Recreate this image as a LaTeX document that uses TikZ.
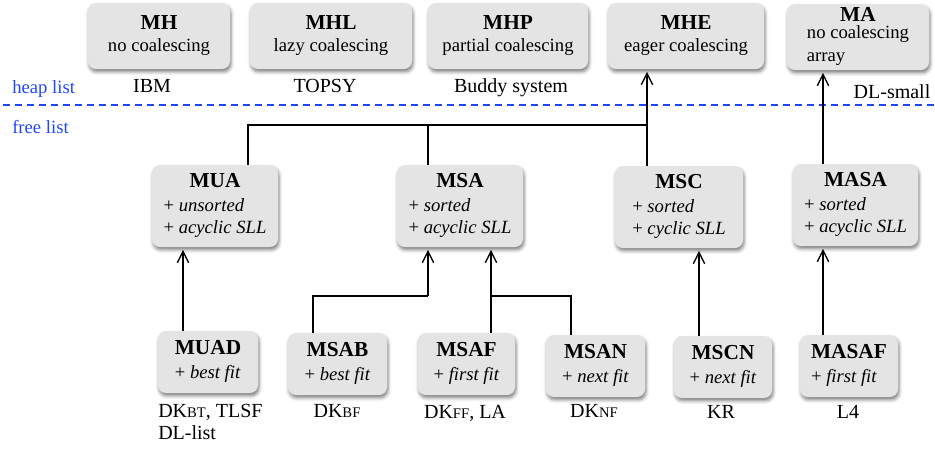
\documentclass[tikz,border=0pt]{standalone}
\usepackage{fontspec}
\setmainfont{Liberation Serif}
\usetikzlibrary{arrows.meta,shadows.blur}

\definecolor{boxgray}{HTML}{E4E4E4}
\definecolor{listblue}{HTML}{1F45FF}

% box contents: bold centred title over one or more lines
\newcommand\titlefont{\bfseries\fontsize{16}{17}\selectfont}
\newcommand\toptxt[2]{\begin{tabular}{@{}c@{}}{\titlefont #1}\\[-0.5pt]#2\end{tabular}}
\newcommand\celltxt[3]{\begin{tabular}{@{}l@{}}\multicolumn{1}{@{}c@{}}{\titlefont #1}\\[#2]#3\end{tabular}}
\newcommand\smc[1]{{\fontsize{11}{11}\selectfont #1}}

\begin{document}
\begin{tikzpicture}[x=0.75pt,y=-0.75pt,
  box/.style={rounded corners=6pt, fill=boxgray, inner sep=0pt,
    font=\fontsize{14}{16.5}\selectfont,
    blur shadow={shadow xshift=0.8pt, shadow yshift=-2.2pt,
      shadow blur radius=2.5pt, shadow opacity=50}},
  toprow/.style={box, minimum height=49.5pt},
  midrow/.style={box, minimum height=61.5pt},
  botrow/.style={box, minimum height=46.5pt},
  lbl/.style={font=\fontsize{15}{18}\selectfont, inner sep=0pt, anchor=base},
  side/.style={font=\fontsize{14}{16}\selectfont, text=listblue, inner sep=0pt, anchor=base west},
  link/.style={line width=1pt},
  arr/.style={link, -{Straight Barb[length=8.5pt,width=8.5pt]}, shorten >=2pt},
  sep/.style={listblue, line width=0.9pt, dash pattern=on 5.25pt off 3.75pt}]

\useasboundingbox (0,0) rectangle (935,451);

% heap-list variants
\node[toprow, minimum width=106.5pt] (MH)  at (159,36) {\toptxt{MH}{no coalescing}};
\node[toprow, minimum width=121.5pt] (MHL) at (331,36) {\toptxt{MHL}{lazy coalescing}};
\node[toprow, minimum width=120pt]   (MHP) at (508,36) {\toptxt{MHP}{partial coalescing}};
\node[toprow, minimum width=117pt]   (MHE) at (686,36) {\toptxt{MHE}{eager coalescing}};
\node[toprow, minimum width=106.5pt] (MA)  at (858,37)
  {\begin{tabular}{@{}l@{}}\multicolumn{1}{@{}c@{}}{\titlefont MA}\\[-3.5pt]no coalescing\\[1pt]array\end{tabular}};

\node[lbl] (ibm)   at (152,92) {IBM};
\node[lbl] (topsy) at (325,92) {TOPSY};
\node[lbl] (buddy) at (511,92) {Buddy system};
\node[lbl] (dls)   at (892,98) {DL-small};

% heap list / free list separator
\node[side] (heap) at (12,93) {heap list};
\node[side] (free) at (12,133) {free list};
\coordinate (sepL) at (3,105);
\coordinate (sepR) at (935,105);
\draw[sep] (sepL) -- (sepR);

% free-list variants
\node[midrow, minimum width=94.5pt]  (MUA)  at (215,206)   {\celltxt{MUA}{1.5pt}{+ \textit{unsorted}\\+ \textit{acyclic SLL}}};
\node[midrow, minimum width=94.5pt]  (MSA)  at (460,206)   {\celltxt{MSA}{1.5pt}{+ \textit{sorted}\\+ \textit{acyclic SLL}}};
\node[midrow, minimum width=96pt]    (MSC)  at (679,207)   {\celltxt{MSC}{1.5pt}{+ \textit{sorted}\\+ \textit{cyclic SLL}}};
\node[midrow, minimum width=93.75pt] (MASA) at (855.5,205) {\celltxt{MASA}{1.5pt}{+ \textit{sorted}\\+ \textit{acyclic SLL}}};

% fit policies
\node[botrow, minimum width=75pt]    (MUAD)  at (208,362)   {\celltxt{MUAD}{2pt}{+ \textit{best fit}}};
\node[botrow, minimum width=74.25pt] (MSAB)  at (337.5,364) {\celltxt{MSAB}{2pt}{+ \textit{best fit}}};
\node[botrow, minimum width=72.75pt] (MSAF)  at (466.5,364) {\celltxt{MSAF}{2pt}{+ \textit{first fit}}};
\node[botrow, minimum width=74.25pt] (MSAN)  at (595.5,366) {\celltxt{MSAN}{2pt}{+ \textit{next fit}}};
\node[botrow, minimum width=73.5pt]  (MSCN)  at (723,367)   {\celltxt{MSCN}{2pt}{+ \textit{next fit}}};
\node[botrow, minimum width=73.5pt]  (MASAF) at (849,366)   {\celltxt{MASAF}{2pt}{+ \textit{first fit}}};

\node[lbl, anchor=base west] (uadlbl) at (158,417)
  {\begin{tabular}[t]{@{}l@{}}DK\smc{BT}, TLSF\\[-1.5pt]DL-list\end{tabular}};
\node[lbl] (sablbl)  at (337,417) {DK\smc{BF}};
\node[lbl] (saflbl)  at (465,418) {DK\smc{FF}, LA};
\node[lbl] (sanlbl)  at (594,417) {DK\smc{NF}};
\node[lbl] (scnlbl)  at (721,418) {KR};
\node[lbl] (asaflbl) at (848,418) {L4};

% junction points of the connectors
\coordinate (busL) at (248,125);
\coordinate (busM) at (428,125);
\coordinate (busR) at (647,125);
\coordinate (xA)   at (823,0);
\coordinate (xU)   at (183,0);
\coordinate (kAB)  at (313,296);
\coordinate (kSA)  at (428,296);
\coordinate (kAF)  at (491,296);
\coordinate (kAN)  at (571,296);
\coordinate (xC)   at (699,0);

% free list -> heap list
\draw[link] (MUA.north -| busL) -- (busL) -- (busR);
\draw[link] (MSA.north -| busM) -- (busM);
\draw[arr]  (MSC.north -| busR) -- (MHE.south -| busR);
\draw[arr]  (MASA.north -| xA) -- (MA.south -| xA);

% fit policies -> free lists
\draw[arr]  (MUAD.north -| xU) -- (MUA.south -| xU);
\draw[link] (MSAB.north -| kAB) -- (kAB) -- (kSA);
\draw[arr]  (kSA) -- (MSA.south -| kSA);
\draw[arr]  (MSAF.north -| kAF) -- (MSA.south -| kAF);
\draw[link] (MSAN.north -| kAN) -- (kAN) -- (kAF);
\draw[arr]  (MSCN.north -| xC) -- (MSC.south -| xC);
\draw[arr]  (MASAF.north -| xA) -- (MASA.south -| xA);
\end{tikzpicture}
\end{document}
